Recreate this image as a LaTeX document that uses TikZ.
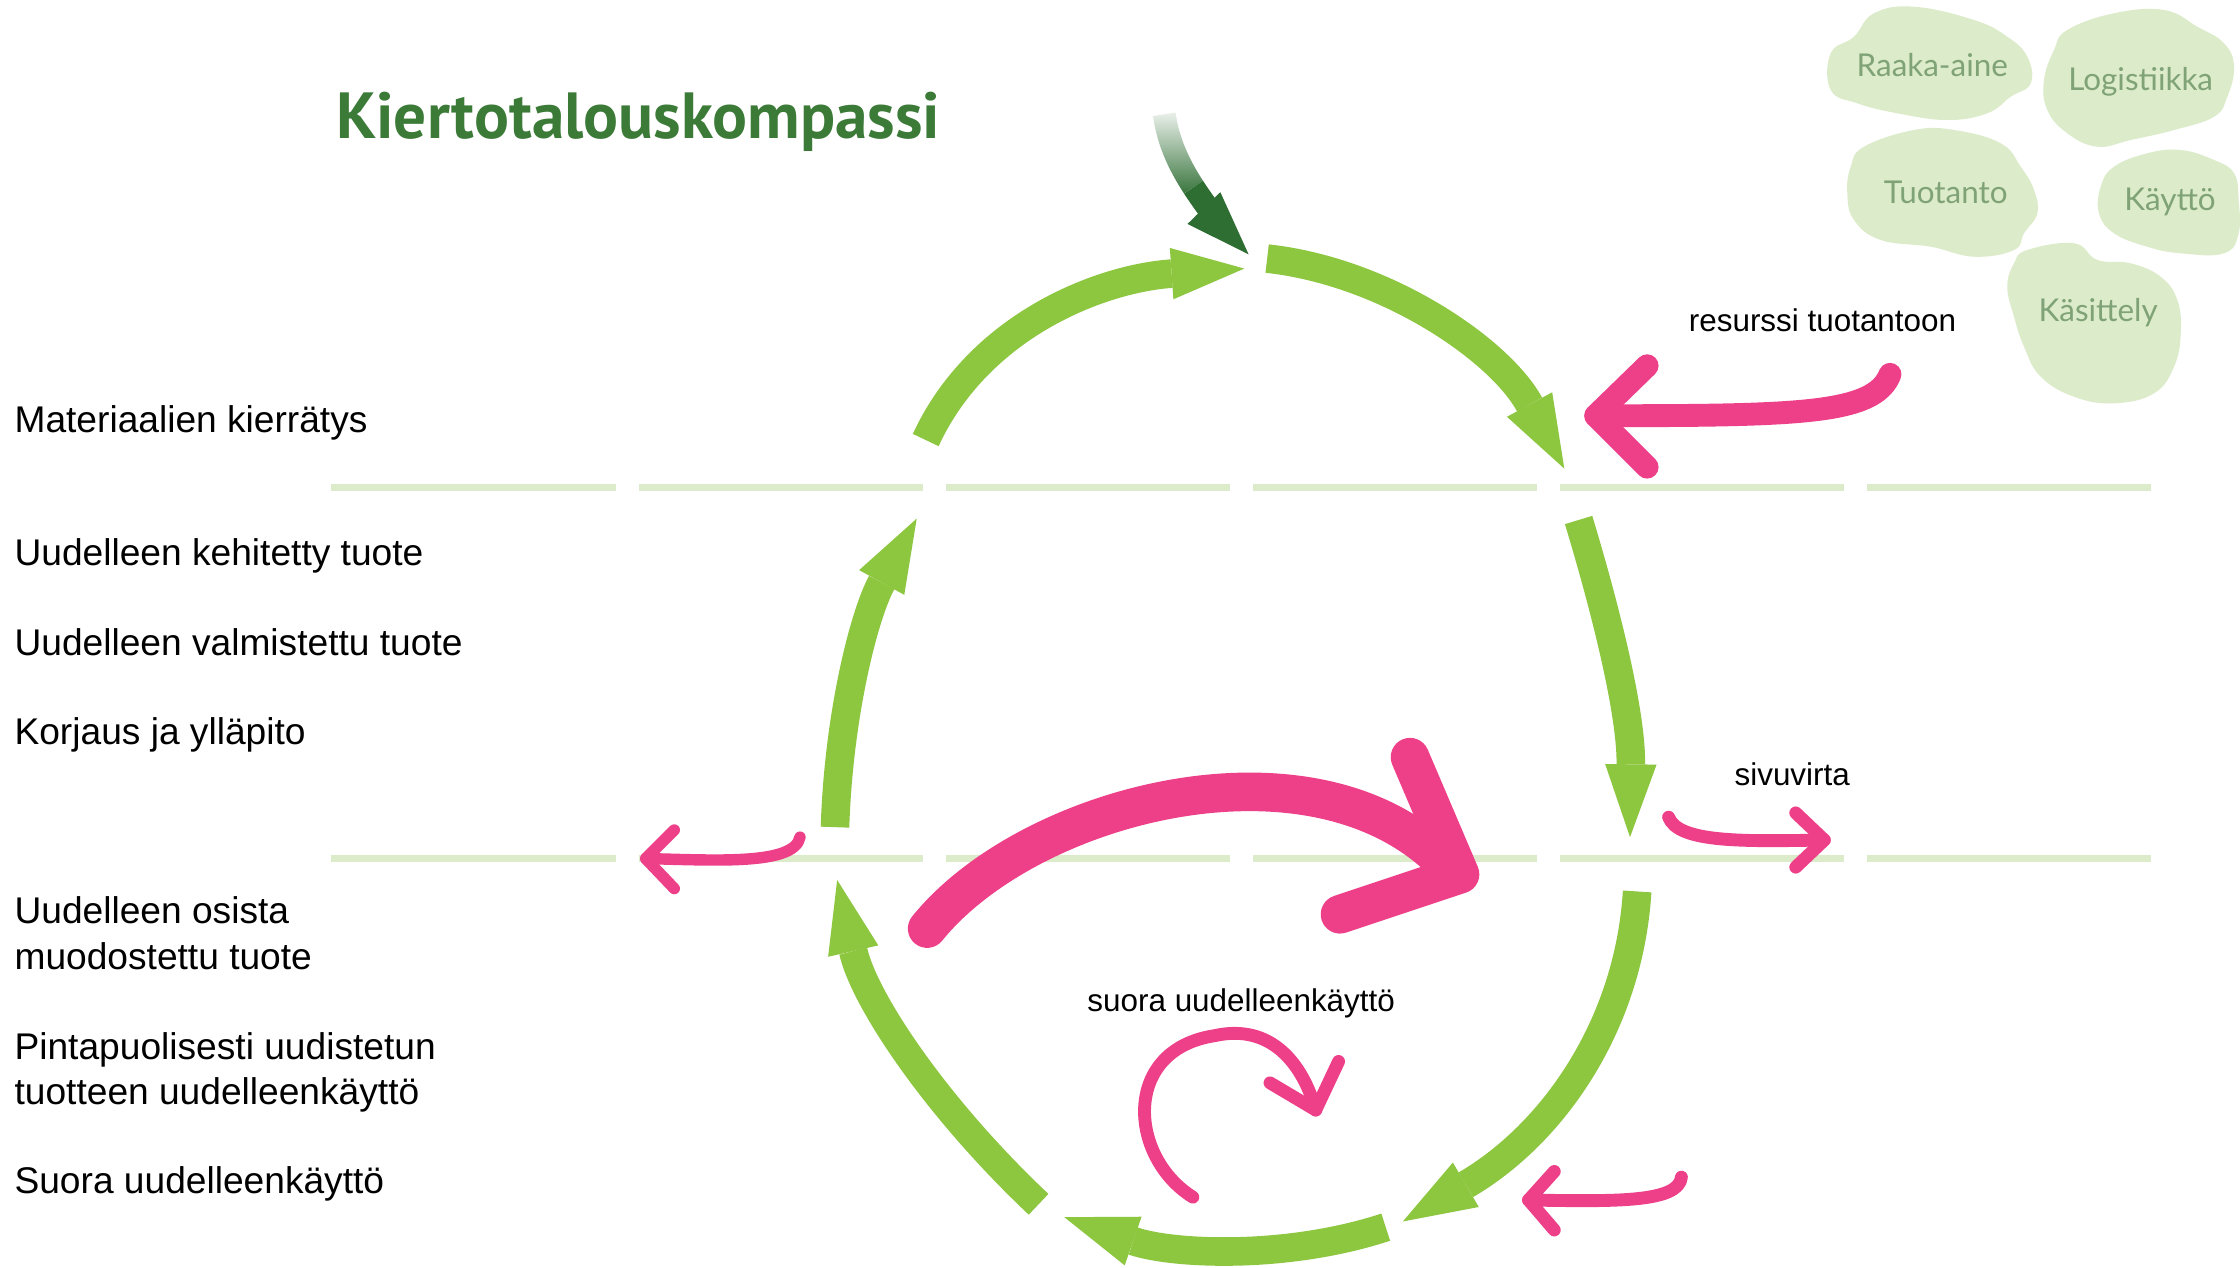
\documentclass[tikz,border=0pt]{standalone}
\usepackage{fontspec}
\usepackage{graphicx}
\setmainfont{Liberation Sans}
\newfontfamily\titlefont{PT Sans}
\newfontfamily\blobfont{Lato}
\usetikzlibrary{arrows.meta,fadings}
\definecolor{lgreen}{HTML}{8DC63F}
\definecolor{pale}{HTML}{DCEBC9}
\definecolor{dkgreen}{HTML}{2F6E33}
\definecolor{titlegreen}{HTML}{3B7B37}
\definecolor{pinkc}{HTML}{EE3F89}
\definecolor{blobtext}{HTML}{7FA376}
\tikzfading[name=fadetop, top color=transparent!100, bottom color=transparent!0]
\begin{document}
\begin{tikzpicture}[x=1pt,y=-1pt,
  cyc/.style={draw=lgreen,line width=20pt,-{Triangle[width=36pt,length=51pt,line width=0pt]}},
  pinkline/.style={draw=pinkc,line cap=round,line join=round},
  dashline/.style={draw=pale,line width=5pt,dash pattern=on 199pt off 16pt},
  blob/.style={fill=pale},
  blobtxt/.style={font=\blobfont\fontsize{22}{26}\selectfont,text=blobtext,inner sep=0pt,anchor=base},
  lbl/.style={font=\fontsize{26}{30}\selectfont,inner sep=0pt,anchor=base west},
  slbl/.style={font=\fontsize{22}{26}\selectfont,inner sep=0pt,anchor=base west},
]
\useasboundingbox[fill=white] (0,0) rectangle (1568,887);

% blobs
\fill[blob] plot[smooth cycle, tension=0.7] coordinates {(1311.8,9.3) (1339.8,4.7) (1381.8,14) (1405.1,25.7) (1419.1,39.7) (1421.5,58.3) (1407.5,67.7) (1391.1,79.3) (1363.1,84) (1328.1,79.3) (1300.1,72.3) (1281.5,63) (1281.5,37.3) (1297.8,25.7)};
\fill[blob] plot[smooth cycle, tension=0.7] coordinates {(1447.1,21) (1479.8,9.3) (1514.8,7) (1538.1,18.7) (1556.8,30.3) (1563.8,46.7) (1559.1,67.7) (1549.8,81.7) (1521.8,91) (1491.5,98) (1468.1,102.7) (1447.1,93.3) (1433.1,77) (1430.8,56) (1437.8,35)};
\fill[blob] plot[smooth cycle, tension=0.7] coordinates {(1304.8,102.7) (1339.8,91) (1367.8,91) (1400.5,100.3) (1414.5,116.7) (1423.8,133) (1426.1,149.3) (1416.8,163.3) (1409.8,175) (1381.8,179.7) (1351.5,172.7) (1316.5,168) (1297.8,154) (1293.1,135.3) (1295.5,116.7)};
\fill[blob] plot[smooth cycle, tension=0.7] coordinates {(1479.8,116.7) (1503.1,107.3) (1526.5,105) (1549.8,112) (1563.8,121.3) (1567,140) (1567,163.3) (1556.8,177.3) (1526.5,177.3) (1503.1,172.7) (1479.8,163.3) (1469.3,149.3) (1470.5,130.7)};
\fill[blob] plot[smooth cycle, tension=0.7] coordinates {(1419.1,175) (1451.8,170.3) (1468.1,182) (1491.5,184.3) (1512.4,193.7) (1524.1,210) (1526.5,233.3) (1521.8,256.7) (1507.8,275.3) (1479.8,282.3) (1451.8,277.7) (1428.5,263.7) (1416.8,242.7) (1409.8,221.7) (1405.1,200.7) (1409.8,184.3)};
\node[blobtxt] (raaka) at (1352.6,53.7) {Raaka-aine};
\node[blobtxt] (logi) at (1498.5,63) {Logistiikka};
\node[blobtxt] (tuot) at (1362,142.3) {Tuotanto};
\node[blobtxt] (kayt) at (1519,147) {Käyttö};
\node[blobtxt] (kasi) at (1468.7,225) {Käsittely};

% dashed level lines
\coordinate (d1a) at (232,341); \coordinate (d1b) at (1506,341);
\coordinate (d2a) at (232,601); \coordinate (d2b) at (1506,601);
\draw[dashline] (d1a) -- (d1b);
\draw[dashline] (d2a) -- (d2b);

% title
\node[anchor=base west, inner sep=0pt, text=titlegreen] (title) at (235,97) {\resizebox{423pt}{!}{\titlefont\bfseries\fontsize{44}{50}\selectfont Kiertotalouskompassi}};

% green cycle arrows
\coordinate (tlS) at (648,308); \coordinate (tlE) at (871,188);
\coordinate (trS) at (887,181); \coordinate (trE) at (1095,328);
\coordinate (lvS) at (584.5,579); \coordinate (lvE) at (641.7,363);
\coordinate (rvS) at (1105,364); \coordinate (rvE) at (1141,586);
\coordinate (brS) at (1146,624); \coordinate (brE) at (982,855);
\coordinate (bS) at (970,859); \coordinate (bE) at (745,852);
\coordinate (blS) at (727,843); \coordinate (blE) at (586,616);
\draw[cyc] (tlS) .. controls (685,228) and (770,195) .. (tlE);
\draw[cyc] (trS) .. controls (970,190) and (1050,245) .. (trE);
\draw[cyc] (lvS) .. controls (587,500) and (605,430) .. (lvE);
\draw[cyc] (rvS) .. controls (1125,430) and (1142,500) .. (rvE);
\draw[cyc] (brS) .. controls (1140,720) and (1085,795) .. (brE);
\draw[cyc] (bS) .. controls (900,882) and (820,878) .. (bE);
\draw[cyc] (blS) .. controls (655,775) and (605,700) .. (blE);

% dark green input arrow (faded tail, solid head)
\coordinate (dgS) at (815,80); \coordinate (dgM) at (835.5,131.1); \coordinate (dgE) at (874,178);
\draw[draw=dkgreen, line width=16pt, path fading=fadetop] (dgS) .. controls (817.5,98.5) and (825,115) .. (dgM);
\draw[draw=dkgreen, line width=16pt, -{Triangle[width=32pt,length=45pt,line width=0pt]}] (dgM) .. controls (846,147.25) and (859.5,163) .. (dgE);

% pink arrows
\coordinate (rsS) at (1323,262); \coordinate (rsT) at (1117,291);
\coordinate (rsA) at (1153,256); \coordinate (rsB) at (1153,327);
\draw[pinkline,line width=16pt] (rsS) .. controls (1312,290) and (1260,291) .. (rsT);
\draw[pinkline,line width=16pt] (rsA) -- (rsT) -- (rsB);

\coordinate (bpS) at (649,650); \coordinate (bpE) at (1012,605);
\coordinate (bpA) at (987,530); \coordinate (bpT) at (1022,612); \coordinate (bpB) at (938,640);
\draw[pinkline,line width=27pt] (bpS) .. controls (720,562) and (920,510) .. (bpE);
\draw[pinkline,line width=27pt] (bpA) -- (bpT) -- (bpB);

\coordinate (lsS) at (560,586); \coordinate (lsT) at (452,601);
\coordinate (lsA) at (472,581); \coordinate (lsB) at (472,622);
\draw[pinkline,line width=8pt] (lsS) .. controls (556,606) and (500,602) .. (lsT);
\draw[pinkline,line width=8pt] (lsA) -- (lsT) -- (lsB);

\coordinate (svS) at (1168,572); \coordinate (svT) at (1277,588);
\coordinate (svA) at (1257,569); \coordinate (svB) at (1257,607);
\draw[pinkline,line width=9pt] (svS) .. controls (1175,590) and (1220,589) .. (svT);
\draw[pinkline,line width=9pt] (svA) -- (svT) -- (svB);

\coordinate (bsS) at (1177,824); \coordinate (bsT) at (1070,840);
\coordinate (bsA) at (1088,820); \coordinate (bsB) at (1088,861);
\draw[pinkline,line width=9pt] (bsS) .. controls (1175,842) and (1130,841) .. (bsT);
\draw[pinkline,line width=9pt] (bsA) -- (bsT) -- (bsB);

\coordinate (cuS) at (835,838); \coordinate (cuM) at (850,725); \coordinate (cuT) at (921,777);
\coordinate (cuA) at (889,758); \coordinate (cuB) at (937,743);
\draw[pinkline,line width=9pt] (cuS) .. controls (790,810) and (785,735) .. (cuM) .. controls (890,716) and (912,745) .. (cuT);
\draw[pinkline,line width=9pt] (cuA) -- (cuT) -- (cuB);

% left labels
\node[lbl] (l1) at (10,302.5) {Materiaalien kierrätys};
\node[lbl] (l2) at (10,396) {Uudelleen kehitetty tuote};
\node[lbl] (l3) at (10,458.5) {Uudelleen valmistettu tuote};
\node[lbl] (l4) at (10,521) {Korjaus ja ylläpito};
\node[lbl] (l5a) at (10,646.5) {Uudelleen osista};
\node[lbl] (l5b) at (10,678.5) {muodostettu tuote};
\node[lbl] (l6a) at (10,741.5) {Pintapuolisesti uudistetun};
\node[lbl] (l6b) at (10,773) {tuotteen uudelleenkäyttö};
\node[lbl] (l7) at (10,835.5) {Suora uudelleenkäyttö};

% flow labels
\node[slbl] (res) at (1182,232) {resurssi tuotantoon};
\node[slbl] (siv) at (1214,549.5) {sivuvirta};
\node[slbl] (suo) at (761,708) {suora uudelleenkäyttö};
\end{tikzpicture}
\end{document}
